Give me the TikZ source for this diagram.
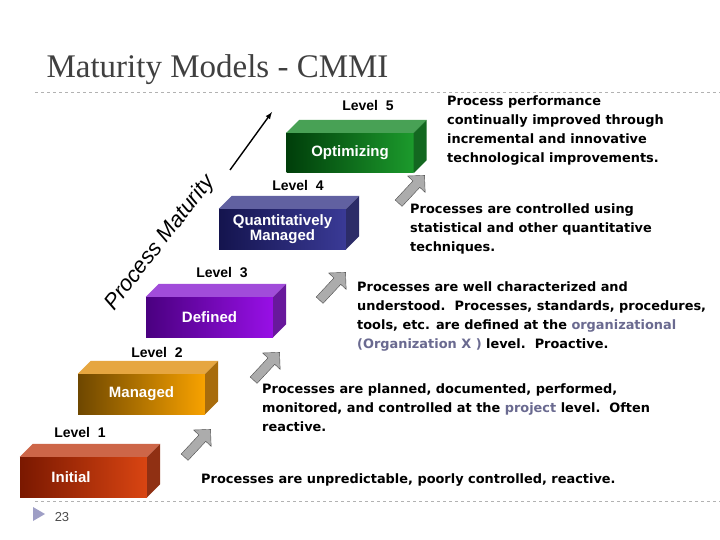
\documentclass[tikz,border=0pt]{standalone}
\usepackage{fontspec}
\setmainfont{Liberation Serif}
\newfontfamily\boxf{Liberation Sans}
\newfontfamily\descf{DejaVu Sans}
\usetikzlibrary{shapes.arrows}
\definecolor{lk}{HTML}{6A6A90}
\definecolor{aA}{HTML}{7A1800}\definecolor{aB}{HTML}{D94512}\definecolor{aC}{HTML}{C0401A}
\definecolor{bA}{HTML}{6E4700}\definecolor{bB}{HTML}{F8A200}\definecolor{bC}{HTML}{E09010}
\definecolor{cA}{HTML}{4A0080}\definecolor{cB}{HTML}{9810E6}\definecolor{cC}{HTML}{8A20D0}
\definecolor{dA}{HTML}{14144E}\definecolor{dB}{HTML}{3A3A96}\definecolor{dC}{HTML}{3A3A8A}
\definecolor{eA}{HTML}{003E0A}\definecolor{eB}{HTML}{1C9A2C}\definecolor{eC}{HTML}{1A8A2A}
\begin{document}
\begin{tikzpicture}[x=1pt,y=-1pt,
  box/.style={minimum width=127pt,minimum height=40pt,inner sep=0,font=\boxf\bfseries\fontsize{15}{17}\selectfont,text=white,align=center},
  lvl/.style={font=\boxf\bfseries\fontsize{14}{16}\selectfont},
  desc/.style={anchor=north west,align=left,inner sep=0,font=\descf\bfseries\fontsize{12.9}{19}\selectfont},
  garr/.style={single arrow,draw=gray!60!black,fill=gray!65,minimum height=38pt,minimum width=24pt,single arrow head extend=5pt,inner sep=3pt,rotate=47}]
\useasboundingbox (0,0) rectangle (720,540);
\fill[white] (0,0) rectangle (720,540);
\node[anchor=base west,font=\fontsize{33}{36}\selectfont,text=black!75] (title) at (43,78) {Maturity Models - CMMI};
\draw[gray!60,dashed] (35,92) -- (720,92);
\draw[gray!60,dashed] (35,501) -- (720,501);
\fill[blue!25!gray!60] (33,507) -- (45,514) -- (33,521) -- cycle;
\node[font=\boxf\fontsize{13}{15}\selectfont,text=gray!60!black] (pg) at (62,517) {23};
\newcommand\cmbox[7]{%
  \node[box,left color=#4,right color=#5] (#1) at (#2,#3) {#7};
  \fill[#6!80!white] (#1.north west) -- ++(13,-13) -- ([xshift=13pt,yshift=13pt]#1.north east) -- (#1.north east) -- cycle;
  \fill[#6!75!black] (#1.north east) -- ++(13,-13) -- ([xshift=13pt,yshift=13pt]#1.south east) -- (#1.south east) -- cycle;}
\cmbox{l1}{83.5}{477}{aA}{aB}{aC}{\hspace*{-25pt}Initial}
\cmbox{l2}{141.5}{394}{bA}{bB}{bC}{Managed}
\cmbox{l3}{209.5}{317}{cA}{cB}{cC}{Defined}
\cmbox{l4}{282.5}{229}{dA}{dB}{dC}{Quantitatively\\[-2pt]Managed}
\cmbox{l5}{350}{153}{eA}{eB}{eC}{Optimizing}
\node[lvl] (t1) at (80,432) {Level\ \ 1};
\node[lvl] (t2) at (157,352) {Level\ \ 2};
\node[lvl] (t3) at (222,273) {Level\ \ 3};
\node[lvl] (t4) at (298,185) {Level\ \ 4};
\node[lvl] (t5) at (368,105) {Level\ \ 5};
\node[garr] (a1) at (196,445) {};
\node[garr] (a2) at (265,368) {};
\node[garr] (a3) at (331,288) {};
\node[garr] (a4) at (410,191) {};
\node[rotate=52,font=\boxf\itshape\fontsize{22}{24}\selectfont] (pm) at (160,243) {Process Maturity};
\coordinate (m1) at (230,170);
\coordinate (m2) at (272,112);
\draw[line width=1.4pt,-latex] (m1) -- (m2);
\node[desc] (d5) at (447,95) {Process performance\\continually improved through\\incremental and innovative\\technological improvements.};
\node[desc] (d4) at (410,203) {Processes are controlled using\\statistical and other quantitative\\techniques.};
\node[desc] (d3) at (357,281) {Processes are well characterized and\\understood.\ \ Processes, standards, procedures,\\tools, etc. are defined at the \textcolor{lk}{organizational}\\\textcolor{lk}{(Organization X )} level.\ \ Proactive.};
\node[desc] (d2) at (262,383) {Processes are planned, documented, performed,\\monitored, and controlled at the \textcolor{lk}{project} level.\ \ Often\\reactive.};
\node[desc] (d1) at (201,473) {Processes are unpredictable, poorly controlled, reactive.};
\end{tikzpicture}
\end{document}
